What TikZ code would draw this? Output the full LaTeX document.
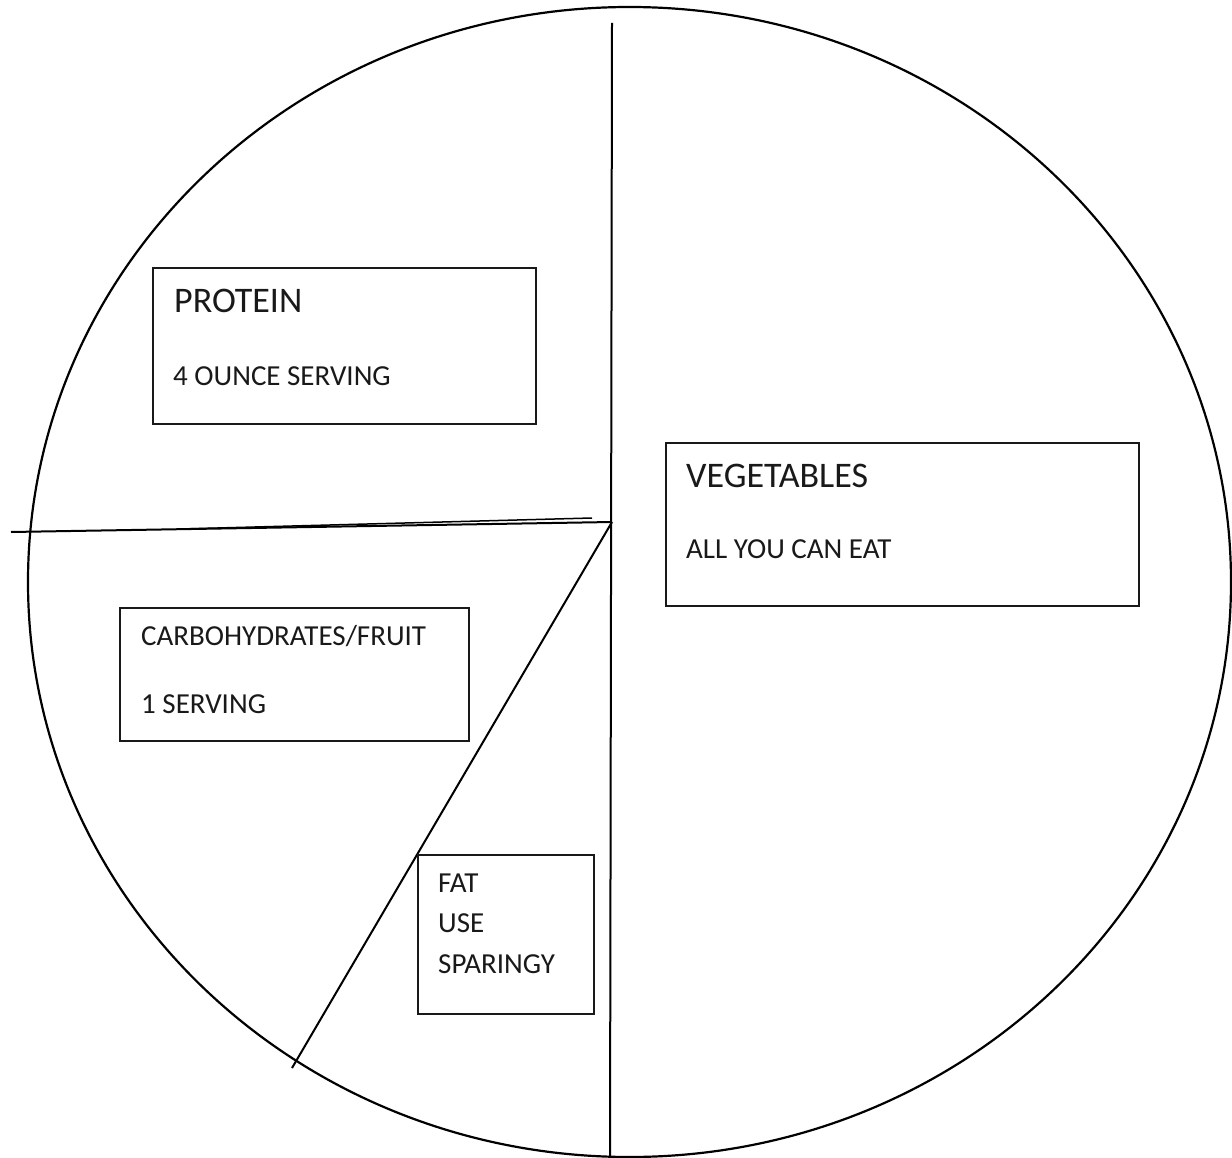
\documentclass[tikz,border=0pt]{standalone}
\usepackage{fontspec}
\setmainfont{Carlito}
\begin{document}
\begin{tikzpicture}[x=1pt,y=-1pt,
  box/.style={draw=black!90, line width=2.1pt, rectangle, inner sep=0pt, anchor=north west},
  divline/.style={draw=black, line width=2pt},
  bigtxt/.style={anchor=base west, inner sep=0pt, text=black!90, font=\fontsize{36}{43}\selectfont},
  smalltxt/.style={anchor=base west, inner sep=0pt, text=black!90, font=\fontsize{29}{35}\selectfont}]
\useasboundingbox (0,0) rectangle (1232,1158);
\fill[white] (0,0) rectangle (1232,1158);
% plate
\draw[black, line width=2.2pt] (629.5,582) ellipse [x radius=601.5, y radius=575];
% divider coordinates
\coordinate (vtop) at (612,23);
\coordinate (vbot) at (610,1160);
\coordinate (mid) at (612,522);
\coordinate (hleft) at (11,532);
\coordinate (h2a) at (180,529);
\coordinate (h2b) at (592,518);
\coordinate (dend) at (292,1068);
\draw[divline] (vtop) -- (vbot);
\draw[divline] (hleft) -- (mid);
\draw[divline, line width=1.5pt] (h2a) -- (h2b);
\draw[divline] (mid) -- (dend);
% boxes
\node[box, minimum width=383pt, minimum height=156pt] (protbox) at (152,267) {};
\node[box, minimum width=473pt, minimum height=163pt] (vegbox) at (665,442) {};
\node[box, minimum width=349pt, minimum height=133pt] (carbbox) at (119,607) {};
\node[box, minimum width=176pt, minimum height=159pt] (fatbox) at (417,854) {};
% texts
\node[bigtxt] (prot1) at (174,313) {PROTEIN};
\node[smalltxt] (prot2) at (173,385) {4 OUNCE SERVING};
\node[bigtxt] (veg1) at (686,487) {VEGETABLES};
\node[smalltxt] (veg2) at (686,558) {ALL YOU CAN EAT};
\node[smalltxt] (carb1) at (141,645) {CARBOHYDRATES/FRUIT};
\node[smalltxt] (carb2) at (141,713) {1 SERVING};
\node[smalltxt] (fat1) at (438,892) {FAT};
\node[smalltxt] (fat2) at (438,932) {USE};
\node[smalltxt] (fat3) at (438,973) {SPARINGY};
\end{tikzpicture}
\end{document}
